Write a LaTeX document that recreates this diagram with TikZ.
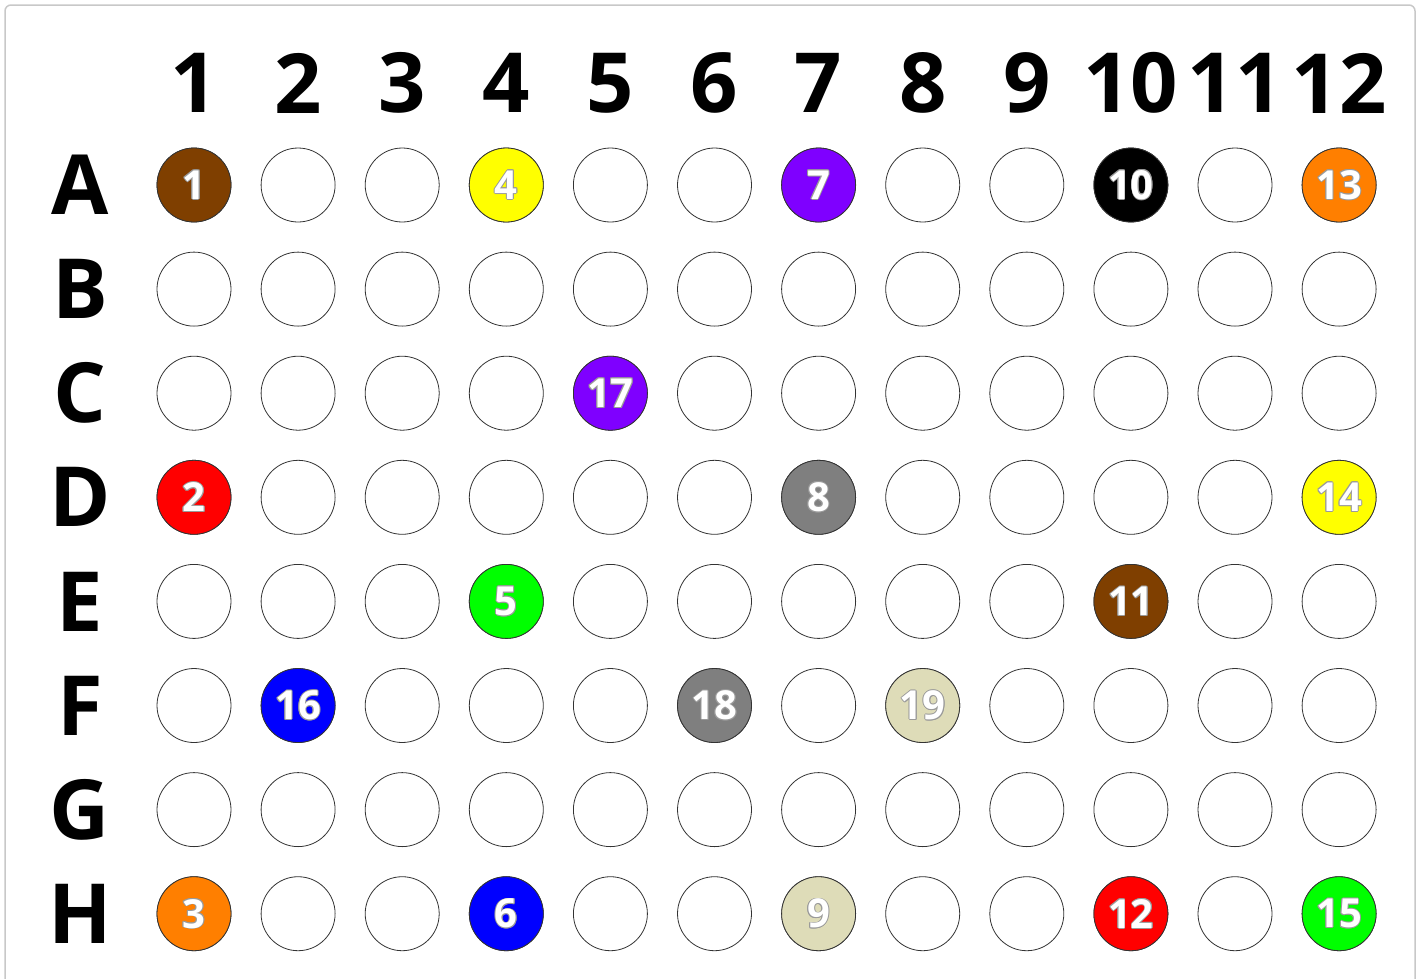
\documentclass[tikz,border=0pt]{standalone}
\usepackage{fontspec}
\setmainfont{Open Sans}
\definecolor{cbrown}{HTML}{7F3F00}
\definecolor{cyellow}{HTML}{FFFF00}
\definecolor{cpurple}{HTML}{7F00FF}
\definecolor{cblack}{HTML}{000000}
\definecolor{corange}{HTML}{FF7F00}
\definecolor{cred}{HTML}{FF0000}
\definecolor{cgray}{HTML}{7F7F7F}
\definecolor{cgreen}{HTML}{00FF00}
\definecolor{cblue}{HTML}{0000FF}
\definecolor{cbeige}{HTML}{DEDCB8}
\definecolor{frame}{HTML}{C8C8C8}
\definecolor{numline}{HTML}{9A9A9A}
\begin{document}
\begin{tikzpicture}[x=1pt,y=-1pt,
  well/.style={circle,draw=black!80,line width=0.8pt,minimum size=74pt,inner sep=0pt},
  hdr/.style={font=\fontsize{83}{83}\selectfont\bfseries,inner sep=0pt},
  num/.style={font=\fontsize{40}{40}\selectfont\bfseries,inner sep=0pt}]
\useasboundingbox (0,0) rectangle (1423,978);
\draw[draw=frame,line width=1.5pt,rounded corners=6pt] (5,5) rectangle (1415,1010);
\foreach \c in {1,...,12}
  \node[hdr] (col\c) at ({194+104.1*(\c-1)},83) {\c};
\foreach \l [count=\r] in {A,B,C,D,E,F,G,H} {
  \node[hdr] (row\l) at (80,{185+104.1*(\r-1)}) {\l};
  \foreach \c in {1,...,12}
    \node[well] (w\l\c) at ({194+104.1*(\c-1)},{185+104.1*(\r-1)}) {};
}
\foreach \w/\colr/\n in {A1/cbrown/1,A4/cyellow/4,A7/cpurple/7,A10/cblack/10,A12/corange/13,
  C5/cpurple/17,D1/cred/2,D7/cgray/8,D12/cyellow/14,E4/cgreen/5,E10/cbrown/11,
  F2/cblue/16,F6/cgray/18,F8/cbeige/19,H1/corange/3,H4/cblue/6,H7/cbeige/9,H10/cred/12,H12/cgreen/15} {
  \fill[fill=\colr,draw=black!80,line width=0.8pt] (w\w.center) circle[radius=37pt];
  \foreach \dx/\dy in {0.9/0,-0.9/0,0/0.9,0/-0.9,0.65/0.65,-0.65/0.65,0.65/-0.65,-0.65/-0.65}
    \node[num,text=numline] at ([shift={(\dx pt,\dy pt)}]w\w.center) {\n};
  \node[num,text=white] at (w\w.center) {\n};
}
\end{tikzpicture}
\end{document}
